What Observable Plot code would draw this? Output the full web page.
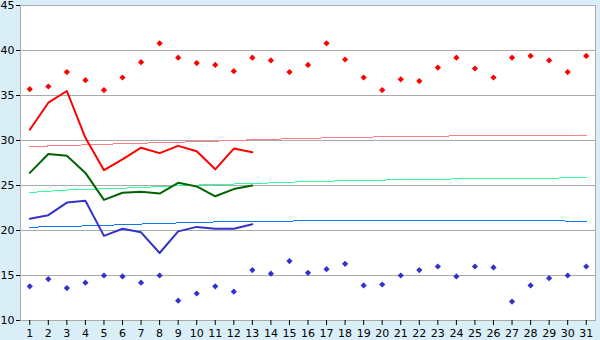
<!DOCTYPE html>
<html><head><meta charset="utf-8">
<script src="https://cdn.jsdelivr.net/npm/d3@7"></script>
<script src="https://cdn.jsdelivr.net/npm/@observablehq/plot@0.6"></script>
<style>html,body{margin:0;padding:0;background:#d9eef6;overflow:hidden;}</style>
</head><body><div id="chart"></div>
<script>
const days = [1,2,3,4,5,6,7,8,9,10,11,12,13,14,15,16,17,18,19,20,21,22,23,24,25,26,27,28,29,30,31];
const yTicks = [10,15,20,25,30,35,40,45];
const maxVals = [35.7,36.0,37.6,36.7,35.6,37.0,38.7,40.8,39.2,38.6,38.4,37.7,39.2,38.9,37.6,38.4,40.8,39.0,37.0,35.6,36.8,36.6,38.1,39.2,38.0,37.0,39.2,39.4,38.9,37.6,39.4];
const minVals = [13.8,14.6,13.6,14.2,15.0,14.9,14.2,15.0,12.2,13.0,13.8,13.2,15.6,15.2,16.6,15.3,15.7,16.3,13.9,14.0,15.0,15.6,16.0,14.9,16.0,15.9,12.1,13.9,14.7,15.0,16.0];
const lineDays = [1,2,3,4,5,6,7,8,9,10,11,12,13];
const redLine = [31.2,34.2,35.5,30.3,26.7,27.9,29.2,28.6,29.4,28.8,26.8,29.1,28.7];
const greenLine = [26.4,28.5,28.3,26.4,23.4,24.2,24.3,24.1,25.3,24.9,23.8,24.6,25.0];
const blueLine = [21.3,21.7,23.1,23.3,19.4,20.2,19.8,17.5,19.9,20.4,20.2,20.2,20.7];
const trendDays = [1,3,5,7,9,11,13,15,17,19,21,23,25,27,29,31];
const redTrend = [29.33,29.45,29.58,29.70,29.81,29.93,30.08,30.19,30.29,30.37,30.44,30.49,30.52,30.54,30.55,30.56];
const greenTrend = [24.22,24.5,24.63,24.78,24.97,25.12,25.21,25.37,25.48,25.58,25.63,25.7,25.76,25.78,25.8,25.92];
const blueTrend = [20.37,20.45,20.57,20.72,20.84,20.95,21.03,21.05,21.1,21.14,21.15,21.15,21.14,21.12,21.08,21.02];

const pts = (xs, ys) => ys.map((v, i) => ({x: xs[i], y: v}));

const chart = Plot.plot({
  width: 600, height: 340,
  marginLeft: 20, marginRight: 5, marginTop: 5, marginBottom: 20,
  style: {background: "#d9eef6", fontFamily: "'DejaVu Sans', sans-serif", fontSize: "11px", color: "black"},
  x: {domain: [0.5, 31.5], axis: null, label: null},
  y: {domain: [10, 45], axis: null, label: null},
  marks: [
    Plot.frame({fill: "white", stroke: "none"}),
    Plot.gridY(yTicks, {stroke: "#aaaaaa", strokeOpacity: 1}),
    Plot.frame({stroke: "#aaaaaa", strokeOpacity: 1}),
    Plot.axisX({ticks: days, label: null, tickSize: 5, tickPadding: 4, tickFormat: d => String(d), stroke: "black", strokeOpacity: 1}),
    Plot.axisY({ticks: yTicks, label: null, tickSize: 4, tickPadding: 2, tickFormat: d => String(d), stroke: "black", strokeOpacity: 1}),
    Plot.line(pts(trendDays, redTrend), {x: "x", y: "y", stroke: "#ff8080", strokeWidth: 1, shapeRendering: "crispEdges"}),
    Plot.line(pts(trendDays, greenTrend), {x: "x", y: "y", stroke: "#33ff99", strokeWidth: 1, shapeRendering: "crispEdges"}),
    Plot.line(pts(trendDays, blueTrend), {x: "x", y: "y", stroke: "#0a78f0", strokeWidth: 1, shapeRendering: "crispEdges"}),
    Plot.line(pts(lineDays, redLine), {x: "x", y: "y", stroke: "#ff0000", strokeWidth: 2}),
    Plot.line(pts(lineDays, greenLine), {x: "x", y: "y", stroke: "#006400", strokeWidth: 2}),
    Plot.line(pts(lineDays, blueLine), {x: "x", y: "y", stroke: "#3333cc", strokeWidth: 2}),
    Plot.dot(pts(days, maxVals), {x: "x", y: "y", symbol: "diamond2", r: 2.8, fill: "#ff0000", stroke: "none"}),
    Plot.dot(pts(days, minVals), {x: "x", y: "y", symbol: "diamond2", r: 2.8, fill: "#3333cc", stroke: "none"})
  ]
});
document.getElementById("chart").appendChild(chart);
</script>
</body></html>
